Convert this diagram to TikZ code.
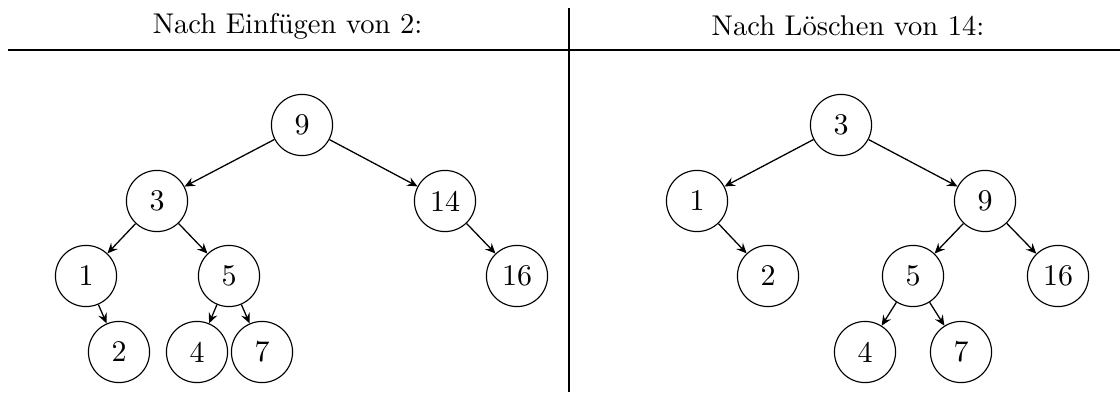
\documentclass[tikz,border=0pt]{standalone}
\usetikzlibrary{arrows.meta}
\begin{document}
\begin{tikzpicture}[x=0.35pt,y=-0.35pt,
  bnode/.style={circle,draw,line width=0.4pt,minimum size=21.4pt,inner sep=0pt,font=\fontsize{10.5}{12}\selectfont},
  edge/.style={-{Stealth[length=3.6pt,width=3.2pt,inset=1.3pt]},line width=0.45pt},
  rule/.style={line width=0.4pt}]
\useasboundingbox (0,0) rectangle (1120,392);
% table frame
\coordinate (hl) at (8,50);
\coordinate (hr) at (1120,50);
\coordinate (vt) at (569,8);
\coordinate (vb) at (569,392);
\draw[line width=0.7pt] (hl) -- (hr);
\draw[rule] (vt) -- (vb);
\node[font=\fontsize{10}{12}\selectfont] (t1) at (287.5,26) {Nach Einfügen von 2:};
\node[font=\fontsize{10}{12}\selectfont] (t2) at (848,26) {Nach Löschen von 14:};
% left tree
\node[bnode] (a9) at (302,125) {9};
\node[bnode] (a3) at (157,201) {3};
\node[bnode] (a14) at (445,201) {14};
\node[bnode] (a1) at (86,276) {1};
\node[bnode] (a5) at (229,276) {5};
\node[bnode] (a16) at (517,276) {16};
\node[bnode] (a2) at (119,352) {2};
\node[bnode] (a4) at (197,352) {4};
\node[bnode] (a7) at (262,352) {7};
\draw[edge] (a9) -- (a3);
\draw[edge] (a9) -- (a14);
\draw[edge] (a3) -- (a1);
\draw[edge] (a3) -- (a5);
\draw[edge] (a14) -- (a16);
\draw[edge] (a1) -- (a2);
\draw[edge] (a5) -- (a4);
\draw[edge] (a5) -- (a7);
% right tree
\node[bnode] (b3) at (841,125) {3};
\node[bnode] (b1) at (697,201) {1};
\node[bnode] (b9) at (985,201) {9};
\node[bnode] (b2) at (768,276) {2};
\node[bnode] (b5) at (913,276) {5};
\node[bnode] (b16) at (1058,276) {16};
\node[bnode] (b4) at (865,352) {4};
\node[bnode] (b7) at (961,352) {7};
\draw[edge] (b3) -- (b1);
\draw[edge] (b3) -- (b9);
\draw[edge] (b1) -- (b2);
\draw[edge] (b9) -- (b5);
\draw[edge] (b9) -- (b16);
\draw[edge] (b5) -- (b4);
\draw[edge] (b5) -- (b7);
\end{tikzpicture}
\end{document}
